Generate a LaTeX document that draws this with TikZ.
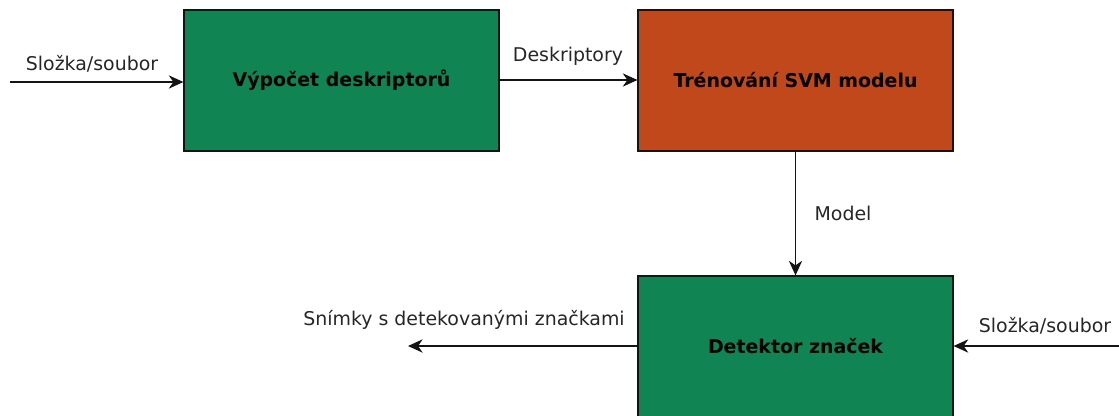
\documentclass[tikz,border=0pt]{standalone}
\usepackage{fontspec}
\setmainfont{DejaVu Sans}
\usetikzlibrary{arrows.meta}
\definecolor{boxgreen}{RGB}{17,132,84}
\definecolor{boxorange}{RGB}{192,72,26}
\definecolor{linecol}{RGB}{20,20,20}
\tikzset{
  blockbox/.style={draw=linecol, line width=0.9pt, minimum width=315*0.75pt, inner sep=0pt, font=\fontsize{14.2}{16}\selectfont\bfseries},
  conn/.style={draw=linecol, line width=0.9pt, -{Stealth[length=11pt,width=10pt,inset=3.5pt]}},
  lbl/.style={font=\fontsize{14.2}{16}\selectfont, text=black!85, inner sep=0pt}
}
\begin{document}
\begin{tikzpicture}[x=0.75pt,y=-0.75pt]
\useasboundingbox (0,0) rectangle (1119,415);
\node[blockbox, fill=boxgreen, minimum height=141*0.75pt] (b1) at (341.5,80.5) {Výpočet deskriptorů};
\node[blockbox, fill=boxorange, minimum height=141*0.75pt] (b2) at (795.5,80.5) {Trénování SVM modelu};
\node[blockbox, fill=boxgreen, minimum height=141*0.75pt] (b3) at (795.5,346.5) {Detektor značek};
\coordinate (in1) at (10,82);
\coordinate (in2) at (1119,346);
\coordinate (out) at (408,346);
\draw[conn] (in1) -- (b1.west |- in1);
\draw[conn] (b1.east |- 0,80) -- (b2.west |- 0,80);
\draw[conn] (b2.south) -- (b3.north);
\draw[conn] (in2) -- (b3.east |- in2);
\draw[conn] (b3.west |- out) -- (out);
\node[lbl] (l1) at (92,64) {Složka/soubor};
\node[lbl] (l2) at (568,56) {Deskriptory};
\node[lbl] (l3) at (843,213) {Model};
\node[lbl] (l4) at (1045,326) {Složka/soubor};
\node[lbl] (l5) at (464,320) {Snímky s detekovanými značkami};
\end{tikzpicture}
\end{document}
